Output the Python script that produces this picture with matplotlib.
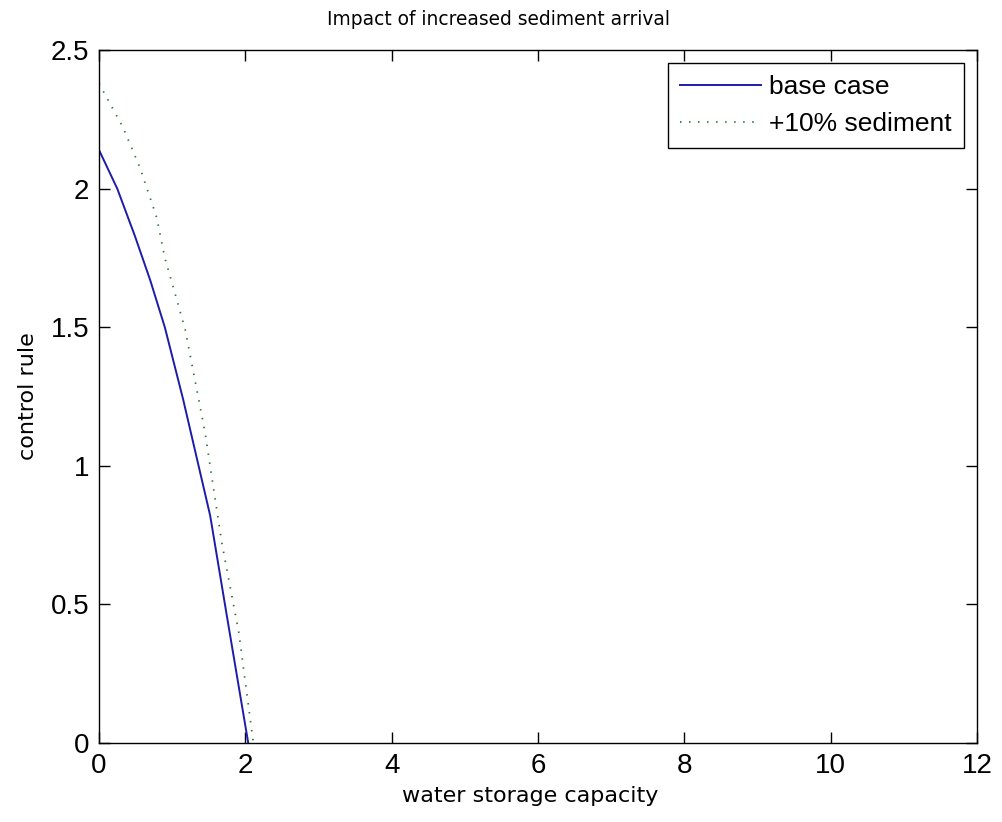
import matplotlib.pyplot as plt

# values
base_x = [0.0, 0.25, 0.49, 0.70, 0.90, 1.15, 1.52, 1.75, 2.04]
base_y = [2.14, 2.00, 1.83, 1.67, 1.50, 1.24, 0.82, 0.455, 0.0]
sed_x = [0.0, 0.33, 0.56, 0.79, 0.90, 1.02, 1.18, 1.45, 1.68, 1.91, 2.11]
sed_y = [2.38, 2.22, 2.076, 1.895, 1.75, 1.64, 1.49, 1.12, 0.72, 0.40, 0.0]

x_ticks = [0, 2, 4, 6, 8, 10, 12]
y_ticks = [0, 0.5, 1, 1.5, 2, 2.5]

plt.rcParams['font.family'] = ['Liberation Sans', 'DejaVu Sans']

fig = plt.figure(figsize=(10.03, 8.22), dpi=100)
ax = fig.add_axes([0.0987, 0.0961, 0.8753, 0.8429])

ax.plot(base_x, base_y, color='#1c1caa', linewidth=1.4, label='base case')
ax.plot(sed_x, sed_y, color='#2a7a3a', linewidth=1.3, linestyle=(0, (0.8, 4.2)),
        label='+10% sediment')

ax.set_xlim(0, 12)
ax.set_ylim(0, 2.5)
ax.set_xticks(x_ticks)
ax.set_yticks(y_ticks)
ax.set_xticklabels([str(t) for t in x_ticks])
ax.set_yticklabels(['0', '0.5', '1', '1.5', '2', '2.5'])
ax.tick_params(direction='in', length=8, width=1, top=True, right=True,
               labelsize=20, pad=7)
for s in ax.spines.values():
    s.set_linewidth(1)

ax.set_xlabel('water storage capacity', fontsize=16, family='DejaVu Sans',
              labelpad=5, x=0.491)
ax.set_ylabel('control rule', fontsize=16, family='DejaVu Sans', labelpad=9)
ax.set_title('Impact of increased sediment arrival', fontsize=13.4,
             family='DejaVu Sans', pad=18, x=0.4556)

leg = ax.legend(loc='upper right', fontsize=19, frameon=True, fancybox=False,
                edgecolor='black', framealpha=1, handlelength=3.1,
                borderaxespad=0.5, handletextpad=0.3, borderpad=0.45,
                labelspacing=0.5)
leg.get_frame().set_linewidth(1)

fig.savefig('out.png', dpi=100)
